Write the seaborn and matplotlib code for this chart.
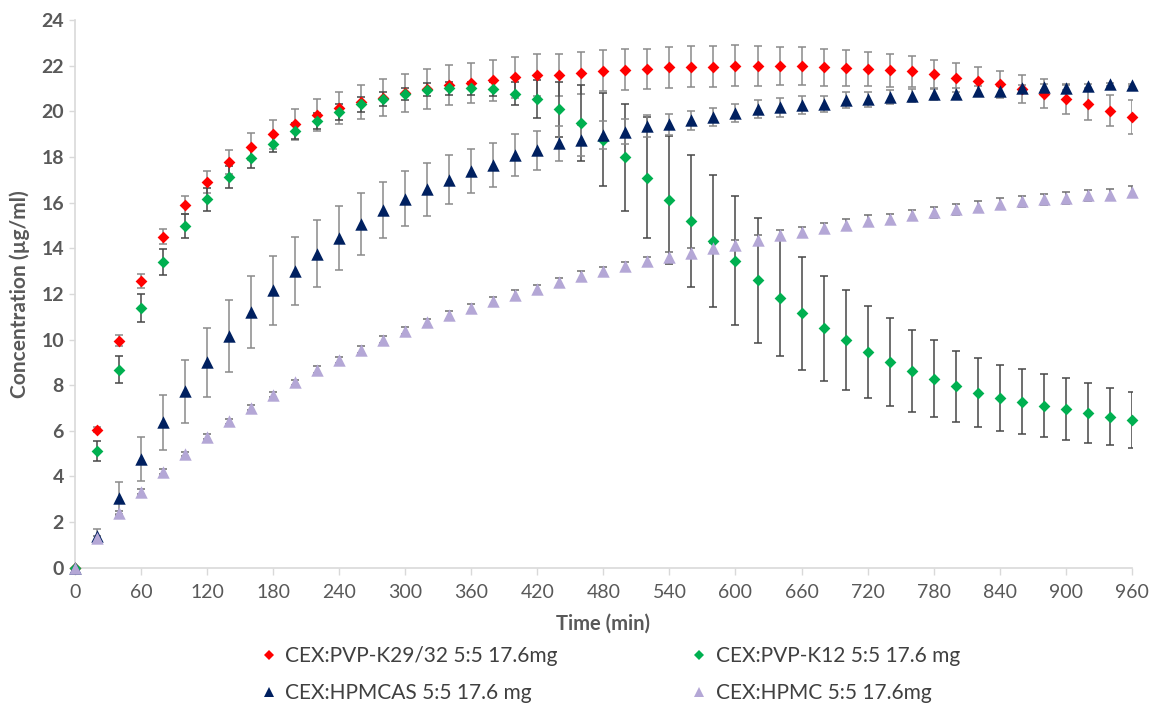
import numpy as np
import pandas as pd
import matplotlib
matplotlib.use("Agg")
import matplotlib.pyplot as plt
from matplotlib.lines import Line2D
import seaborn as sns

# Sampling times (min)
time_min = list(range(0, 961, 20))

# Mean concentrations (µg/ml)
pvp_k2932 = [0, 6.05, 9.95, 12.57, 14.5, 15.88, 16.92, 17.78, 18.45, 19.0,
             19.43, 19.82, 20.15, 20.4, 20.6, 20.8, 20.98, 21.15, 21.25, 21.35,
             21.5, 21.58, 21.6, 21.7, 21.78, 21.83, 21.86, 21.92, 21.96, 21.96,
             22.0, 22.0, 21.98, 21.98, 21.93, 21.9, 21.87, 21.8, 21.75, 21.62,
             21.48, 21.32, 21.18, 20.98, 20.78, 20.55, 20.3, 20.03, 19.75]
pvp_k12 = [0, 5.12, 8.68, 11.38, 13.38, 14.98, 16.15, 17.12, 17.95, 18.58,
           19.13, 19.58, 19.97, 20.3, 20.55, 20.76, 20.95, 21.0, 21.0, 20.98,
           20.78, 20.52, 20.08, 19.5, 18.76, 17.98, 17.08, 16.12, 15.2, 14.32,
           13.45, 12.6, 11.81, 11.15, 10.5, 9.98, 9.47, 9.02, 8.62, 8.28,
           7.95, 7.67, 7.45, 7.27, 7.1, 6.95, 6.78, 6.62, 6.48]
hpmcas = [0, 1.4, 3.05, 4.76, 6.37, 7.73, 9.0, 10.14, 11.21, 12.15,
          13.0, 13.76, 14.44, 15.07, 15.67, 16.17, 16.58, 17.0, 17.38, 17.65,
          18.07, 18.29, 18.59, 18.73, 18.96, 19.11, 19.36, 19.43, 19.61, 19.75,
          19.93, 20.1, 20.17, 20.28, 20.33, 20.49, 20.53, 20.63, 20.68, 20.75,
          20.78, 20.91, 20.91, 21.0, 21.06, 21.04, 21.11, 21.19, 21.15]
hpmc = [0, 1.29, 2.39, 3.34, 4.21, 4.99, 5.75, 6.41, 7.02, 7.58,
        8.12, 8.68, 9.09, 9.56, 10.0, 10.39, 10.76, 11.06, 11.37, 11.68,
        11.97, 12.23, 12.5, 12.8, 12.99, 13.21, 13.43, 13.62, 13.8, 14.02,
        14.13, 14.35, 14.57, 14.7, 14.9, 15.03, 15.21, 15.29, 15.45, 15.57,
        15.7, 15.82, 15.94, 16.05, 16.14, 16.2, 16.32, 16.35, 16.48]

# Standard deviations
pvp_k2932_sd = [0, 0.12, 0.25, 0.3, 0.33, 0.4, 0.48, 0.54, 0.6, 0.64,
                0.68, 0.7, 0.7, 0.74, 0.8, 0.85, 0.88, 0.88, 0.88, 0.9,
                0.9, 0.92, 0.92, 0.92, 0.9, 0.9, 0.88, 0.88, 0.88, 0.88,
                0.9, 0.88, 0.84, 0.82, 0.8, 0.78, 0.75, 0.72, 0.68, 0.65,
                0.63, 0.62, 0.58, 0.6, 0.64, 0.66, 0.66, 0.68, 0.75]
pvp_k12_sd = [0, 0.45, 0.6, 0.62, 0.57, 0.53, 0.5, 0.48, 0.45, 0.36,
              0.35, 0.35, 0.33, 0.33, 0.3, 0.28, 0.28, 0.3, 0.3, 0.3,
              0.5, 0.83, 1.21, 1.67, 2.03, 2.34, 2.65, 2.8, 2.89, 2.9,
              2.82, 2.74, 2.53, 2.47, 2.3, 2.18, 2.02, 1.92, 1.78, 1.68,
              1.56, 1.5, 1.45, 1.43, 1.39, 1.35, 1.32, 1.25, 1.22]
hpmcas_sd = [0, 0.3, 0.7, 0.97, 1.22, 1.38, 1.5, 1.57, 1.57, 1.52,
             1.5, 1.46, 1.41, 1.35, 1.22, 1.2, 1.15, 1.08, 0.98, 0.95,
             0.92, 0.84, 0.75, 0.68, 0.62, 0.55, 0.5, 0.45, 0.42, 0.4,
             0.4, 0.4, 0.4, 0.38, 0.36, 0.35, 0.32, 0.3, 0.28, 0.25,
             0.22, 0.2, 0.18, 0.15, 0.12, 0.1, 0.08, 0.06, 0.05]
hpmc_sd = [0, 0.08, 0.08, 0.1, 0.1, 0.1, 0.1, 0.12, 0.12, 0.12,
           0.12, 0.14, 0.14, 0.15, 0.15, 0.16, 0.16, 0.17, 0.17, 0.18,
           0.18, 0.18, 0.19, 0.19, 0.2, 0.2, 0.2, 0.2, 0.21, 0.21,
           0.21, 0.22, 0.22, 0.22, 0.22, 0.23, 0.23, 0.23, 0.23, 0.24,
           0.24, 0.24, 0.24, 0.25, 0.25, 0.25, 0.25, 0.25, 0.25]

labels = ["CEX:PVP-K29/32 5:5 17.6mg", "CEX:PVP-K12 5:5 17.6 mg",
          "CEX:HPMCAS 5:5 17.6 mg", "CEX:HPMC 5:5 17.6mg"]
means = [pvp_k2932, pvp_k12, hpmcas, hpmc]
sds = [pvp_k2932_sd, pvp_k12_sd, hpmcas_sd, hpmc_sd]

colors = ["#ff0000", "#00b050", "#002060", "#b4a7d6"]
err_colors = ["#8a8a8a", "#474747", "#8a8a8a", "#6e6e6e"]
markers = ["D", "D", "^", "^"]
sizes = [36, 36, 80, 80]

frames = []
for lab, m, s in zip(labels, means, sds):
    frames.append(pd.DataFrame({"time": time_min, "conc": m, "sd": s, "series": lab}))
df = pd.concat(frames, ignore_index=True)

sns.set_theme(style="white")
plt.rcParams["font.family"] = ["Lato", "DejaVu Sans"]

fig = plt.figure(figsize=(11.49, 7.05), dpi=100)
ax = fig.add_axes([0.0653, 0.1947, 0.9197, 0.7769])

for i, lab in enumerate(labels):
    sub = df[df["series"] == lab]
    ax.errorbar(sub["time"], sub["conc"], yerr=sub["sd"], fmt="none",
                ecolor=err_colors[i], elinewidth=1.1, capsize=3, capthick=1.1,
                zorder=1 + i * 0.1)
    sns.scatterplot(data=sub, x="time", y="conc", ax=ax, color=colors[i],
                    marker=markers[i], s=sizes[i], linewidth=0, legend=False,
                    zorder=3 + i * 0.1, clip_on=False)

ax.set_xlim(0, 960)
ax.set_ylim(0, 24)
ax.set_xticks(np.arange(0, 961, 60))
ax.set_yticks(np.arange(0, 25, 2))

for side in ["top", "right"]:
    ax.spines[side].set_visible(False)
for side in ["left", "bottom"]:
    ax.spines[side].set_color("#d9d9d9")
    ax.spines[side].set_linewidth(1.2)

ax.tick_params(axis="x", direction="out", length=5, width=1, color="#d9d9d9",
               labelsize=14, labelcolor="#595959", pad=7, bottom=True)
ax.tick_params(axis="y", direction="out", length=4, width=1, color="#d9d9d9",
               labelsize=14, labelcolor="#595959", pad=4, left=True)
for t in ax.get_yticklabels():
    t.set_fontweight("bold")

ax.set_xlabel("Time (min)", fontsize=14.5, fontweight="bold", color="#595959", labelpad=9)
ax.set_ylabel("Concentration (µg/ml)", fontsize=15, fontweight="bold", color="#595959", labelpad=8)

handles = [Line2D([], [], linestyle="none", marker=markers[i], color=colors[i],
                  markersize=5.5 if markers[i] == "D" else 7.5, markeredgewidth=0,
                  label=labels[i]) for i in range(4)]
order = [0, 2, 1, 3]
leg = fig.legend([handles[i] for i in order], [labels[i] for i in order],
                 ncol=2, loc="center", bbox_to_anchor=(0.532, 0.043),
                 frameon=False, fontsize=15, handlelength=0.6, handletextpad=0.5,
                 columnspacing=6.5, labelspacing=0.8)
for t in leg.get_texts():
    t.set_color("#404040")

fig.savefig("out.png", dpi=100)
